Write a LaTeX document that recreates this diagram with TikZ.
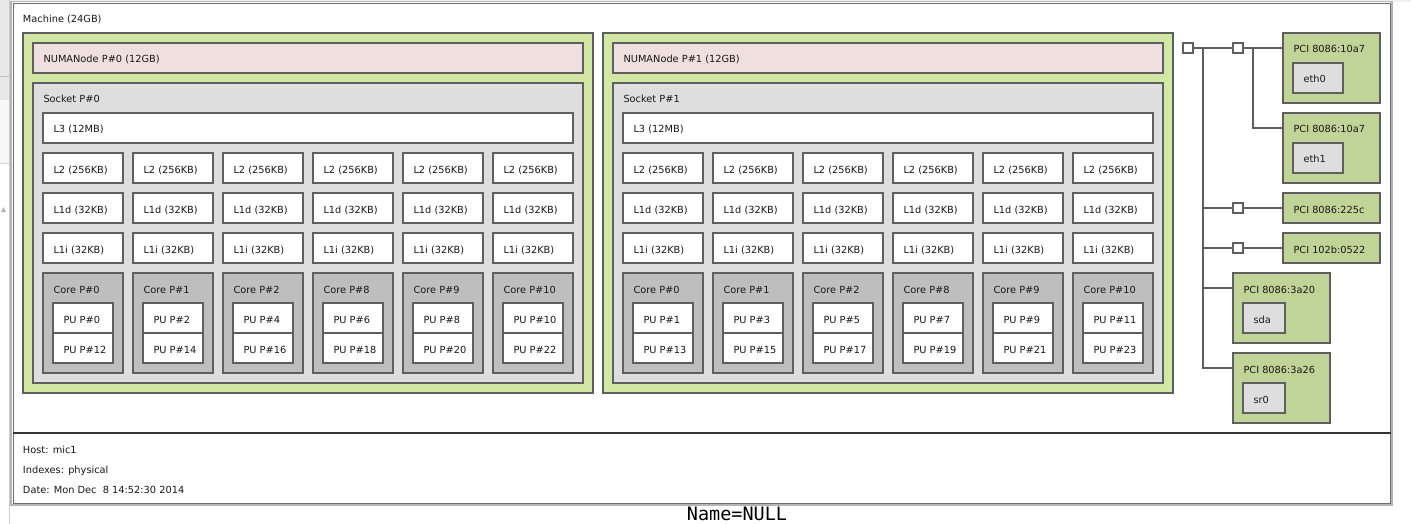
\documentclass[tikz,border=0pt]{standalone}
\usepackage{fontspec}
\setmainfont{DejaVu Sans}
\setmonofont{DejaVu Sans Mono}
\definecolor{grpg}{RGB}{210,231,164}
\definecolor{numap}{RGB}{239,223,222}
\definecolor{sockg}{RGB}{222,222,222}
\definecolor{coreg}{RGB}{190,190,190}
\definecolor{pcig}{RGB}{193,212,152}
\definecolor{osdg}{RGB}{222,222,222}
\definecolor{bd}{RGB}{95,95,95}
\definecolor{frameL}{RGB}{180,180,180}
\definecolor{frameD}{RGB}{110,110,110}
\newcommand\mybox[7]{%
  \node[box,fill=#6,minimum width=#4pt,minimum height=#5pt,anchor=north west] (#1) at (#2,#3) {};
  \node[lbl,anchor=base west] (#1-t) at (#2+10.5,#3+20) {#7};}
\begin{document}
\begin{tikzpicture}[x=1pt,y=-1pt,
  box/.style={draw=bd,line width=1.5pt,inner sep=0pt,outer sep=0pt,rectangle},
  sq/.style={box,fill=white,minimum width=10pt,minimum height=10pt,anchor=north west},
  lbl/.style={font=\fontsize{9.8}{11}\selectfont,inner sep=0pt,outer sep=0pt,text=black!90},
  wire/.style={draw=bd,line width=1.5pt}]
\useasboundingbox (0,0) rectangle (1411,524);
% window background pieces
\fill[white] (0,0) rectangle (1411,524);
\fill[gray!12] (0,0) rectangle (1411,2);
\fill[gray!18] (0,0) rectangle (9,100);
\draw[gray!50] (0,76) -- (9,76);
\fill[gray!6] (0,100) rectangle (9,163);
\draw[gray!35] (0,163) -- (9,163);
\draw[gray!40] (9,0) -- (9,524);
\fill[gray!60] (1,212) -- (3.5,207) -- (6,212) -- cycle;
% machine frame
\draw[frameL,line width=1.5pt] (11,1.5) rectangle (1392,505);
\node[draw=frameD,fill=white,line width=1pt,inner sep=0pt,minimum width=1377pt,minimum height=499pt,anchor=north west] (machine) at (13,3.5) {};
\node[lbl,anchor=base west] (machine-t) at (23,23) {Machine (24GB)};
% NUMA groups
\foreach \g in {0,1}{
  \pgfmathsetmacro\gx{23+580*\g}
  \node[box,fill=grpg,minimum width=570pt,minimum height=360pt,anchor=north west] (grp\g) at (\gx,33) {};
  \mybox{numa\g}{\gx+10}{43}{550}{30}{numap}{NUMANode P\#\g\ (12GB)}
  \mybox{sock\g}{\gx+10}{83}{550}{300}{sockg}{Socket P\#\g}
  \mybox{lthree\g}{\gx+20}{113}{530}{30}{white}{L3 (12MB)}
  \foreach \k/\c in {0/0,1/1,2/2,3/8,4/9,5/10}{
    \pgfmathsetmacro\cx{\gx+20+90*\k}
    \pgfmathtruncatemacro\pa{2*\k+\g}
    \pgfmathtruncatemacro\pb{2*\k+12+\g}
    \mybox{ltwo-\g-\k}{\cx}{153}{80}{30}{white}{L2 (256KB)}
    \mybox{lod-\g-\k}{\cx}{193}{80}{30}{white}{L1d (32KB)}
    \mybox{loi-\g-\k}{\cx}{233}{80}{30}{white}{L1i (32KB)}
    \mybox{core-\g-\k}{\cx}{273}{80}{100}{coreg}{Core P\#\c}
    \mybox{pua-\g-\k}{\cx+10}{303}{60}{30}{white}{PU P\#\pa}
    \mybox{pub-\g-\k}{\cx+10}{333}{60}{30}{white}{PU P\#\pb}
  }
}
% PCI tree
\node[sq] (hb) at (1183,43) {};
\node[sq] (brA) at (1233,43) {};
\node[sq] (brB) at (1233,203) {};
\node[sq] (brC) at (1233,243) {};
\mybox{pciA}{1283}{33}{97}{70}{pcig}{PCI 8086:10a7}
\mybox{eth0}{1293}{63}{50}{30}{osdg}{eth0}
\mybox{pciB}{1283}{113}{97}{70}{pcig}{PCI 8086:10a7}
\mybox{eth1}{1293}{143}{50}{30}{osdg}{eth1}
\mybox{pciC}{1283}{193}{97}{30}{pcig}{PCI 8086:225c}
\mybox{pciD}{1283}{233}{97}{30}{pcig}{PCI 102b:0522}
\mybox{pciE}{1233}{273}{97}{70}{pcig}{PCI 8086:3a20}
\mybox{sda}{1243}{303}{42}{30}{osdg}{sda}
\mybox{pciF}{1233}{353}{97}{70}{pcig}{PCI 8086:3a26}
\mybox{sr0}{1243}{383}{42}{30}{osdg}{sr0}
\coordinate (t1) at (1203,48);
\coordinate (t1e) at (1203,368);
\coordinate (t2) at (1253,48);
\coordinate (t2e) at (1253,128);
\draw[wire] (hb.east) -- (brA.west);
\draw[wire] (brA.east) -- (brA.east -| pciA.west);
\draw[wire] (t2) -- (t2e) -- (t2e -| pciB.west);
\draw[wire] (t1) -- (t1e) -- (t1e -| pciF.west);
\draw[wire] (t1 |- brB.west) -- (brB.west);
\draw[wire] (brB.east) -- (pciC.west);
\draw[wire] (t1 |- brC.west) -- (brC.west);
\draw[wire] (brC.east) -- (pciD.west);
\draw[wire] (t1 |- 0,288) -- (0,288 -| pciE.west);
% legend
\draw[black!80,line width=1.5pt] (machine.west |- 0,433) -- (machine.east |- 0,433);
\node[lbl,anchor=base west] (host) at (23,453) {Host: mic1};
\node[lbl,anchor=base west] (idx) at (23,473) {Indexes: physical};
\node[lbl,anchor=base west] (date) at (23,493) {Date: Mon Dec\ \ 8 14:52:30 2014};
\node[font=\ttfamily\fontsize{18.5}{20}\selectfont,inner sep=0pt,anchor=base] (nm) at (737,520) {Name=NULL};
\end{tikzpicture}
\end{document}
